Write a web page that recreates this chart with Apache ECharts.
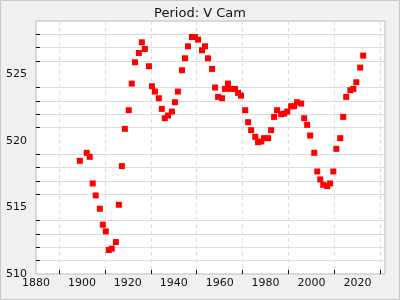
<!DOCTYPE html>
<html>
<head>
<meta charset="utf-8">
<script src="https://cdn.jsdelivr.net/npm/echarts@6/dist/echarts.min.js"></script>
<style>html,body{margin:0;padding:0;background:#f0f0f0}#c{width:400px;height:300px}</style>
</head>
<body>
<div id="c"></div>
<script>
var years = [1899.1,1902.1,1903.4,1904.7,1906.0,1907.8,1909.1,1910.4,1911.7,1913.0,1914.8,1916.1,1917.4,1918.7,1920.4,1921.7,1923.1,1924.8,1926.1,1927.4,1929.2,1930.5,1931.8,1933.5,1934.8,1936.1,1937.5,1939.2,1940.5,1941.8,1943.6,1944.9,1946.2,1947.9,1949.2,1950.6,1952.3,1953.6,1954.9,1956.7,1958.0,1959.3,1961.0,1962.3,1963.6,1964.9,1966.7,1968.0,1969.3,1971.1,1972.4,1973.7,1975.5,1976.7,1978.1,1979.3,1981.1,1982.4,1983.7,1985.0,1986.8,1988.1,1989.4,1991.1,1992.4,1993.7,1995.5,1996.8,1998.1,1999.4,2001.2,2002.5,2003.8,2005.1,2006.8,2008.1,2009.5,2010.8,2012.5,2013.8,2015.1,2016.9,2018.2,2019.5,2021.2,2022.5];
var periods = [518.5,519.1,518.8,516.8,515.9,514.9,513.7,513.2,511.8,511.9,512.4,515.2,518.1,520.9,522.3,524.3,525.9,526.6,527.4,526.9,525.6,524.1,523.7,523.2,522.4,521.7,521.9,522.2,522.9,523.7,525.3,526.2,527.1,527.8,527.8,527.6,526.8,527.1,526.2,525.4,524.0,523.3,523.2,523.9,524.3,523.9,523.9,523.6,523.4,522.3,521.4,520.8,520.3,519.9,519.95,520.2,520.2,520.8,521.8,522.3,522.0,522.05,522.2,522.6,522.6,522.9,522.8,521.7,521.2,520.4,519.1,517.7,517.1,516.7,516.6,516.8,517.7,519.4,520.2,521.8,523.3,523.8,523.9,524.4,525.5,526.4];
var titleText = 'Period: V Cam';
var xMin = 1880, xMax = 2032, xStep = 20, xMinorStep = 10;
var yMin = 510, yMax = 529, yStep = 5, yMinorStep = 1;

var xMinor = [], yMinor = [];
for (var v = xMin + xMinorStep; v < xMax; v += xMinorStep) if ((v - xMin) % xStep !== 0) xMinor.push(v);
for (var w = yMin + yMinorStep; w < yMax; w += yMinorStep) if ((w - yMin) % yStep !== 0) yMinor.push(w);

var chart = echarts.init(document.getElementById('c'), null, {renderer: 'canvas'});
var font = 'DejaVu Sans';
function plain(val) { return String(val); }
chart.setOption({
  animation: false,
  backgroundColor: '#f0f0f0',
  title: {text: titleText, left: 'center', top: 2, textStyle: {fontFamily: font, fontSize: 13, fontWeight: 'normal', color: '#111'}},
  graphic: [{type: 'rect', shape: {x: 0.5, y: 0.5, width: 399, height: 299}, style: {fill: 'none', stroke: '#c8c8c8', lineWidth: 1}, silent: true}],
  grid: {left: 36, right: 15, top: 21, bottom: 26, show: true, backgroundColor: '#fff', borderColor: '#bbb', borderWidth: 1},
  xAxis: {
    type: 'value', min: xMin, max: xMax, interval: xStep,
    axisLine: {show: false},
    axisTick: {show: true, inside: true, length: 4, customValues: xMinor, lineStyle: {color: '#111'}},
    axisLabel: {fontFamily: font, fontSize: 11, color: '#111', margin: 4, showMaxLabel: false, formatter: plain},
    splitLine: {show: true, lineStyle: {color: '#ddd', type: [4, 3]}}
  },
  yAxis: {
    type: 'value', min: yMin, max: yMax, interval: yStep,
    axisLine: {show: false},
    axisTick: {show: true, inside: true, length: 4, customValues: yMinor, lineStyle: {color: '#111'}},
    axisLabel: {fontFamily: font, fontSize: 11, color: '#111', margin: 9, showMaxLabel: false, formatter: plain},
    splitLine: {show: true, lineStyle: {color: '#ddd', type: 'solid'}}
  },
  series: [{
    type: 'scatter', symbol: 'rect', symbolSize: 6,
    itemStyle: {color: '#ff0000', opacity: 1},
    data: years.map(function (y, i) { return [y, periods[i]]; })
  }]
});
</script>
</body>
</html>
